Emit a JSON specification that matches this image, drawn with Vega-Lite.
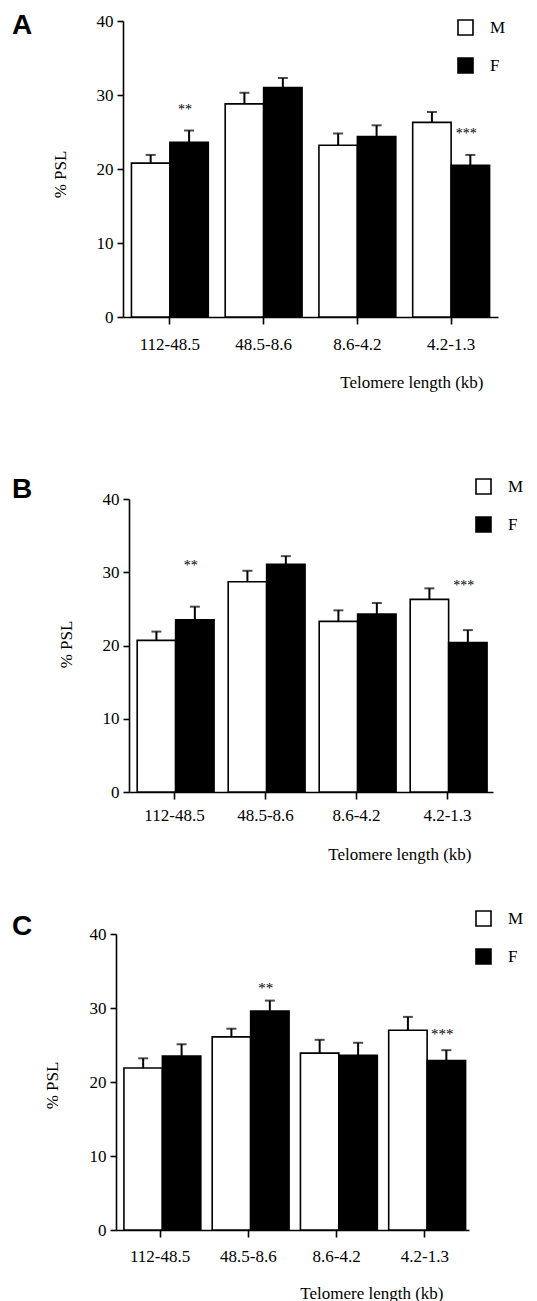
{
  "$schema": "https://vega.github.io/schema/vega-lite/v6.json",
  "background": "white",
  "padding": {"left": 12, "top": 12, "right": 0, "bottom": 0},
  "bounds": "flush",
  "spacing": 142,
  "config": {
    "view": {"stroke": null},
    "axis": {"domainColor": "black", "domainWidth": 1.6, "tickColor": "black", "tickWidth": 1.6, "labelFont": "Liberation Serif", "labelFontSize": 17, "labelColor": "black", "titleFont": "Liberation Serif", "titleFontSize": 17, "titleFontWeight": "normal", "titleColor": "black", "grid": false},
    "legend": {"symbolType": "square", "symbolSize": 225, "symbolStrokeColor": "black", "symbolStrokeWidth": 1.6, "labelFont": "Liberation Serif", "labelFontSize": 17, "labelColor": "black", "labelOffset": 16, "rowPadding": 15, "padding": 0, "orient": "none"},
    "title": {"font": "Liberation Sans", "fontSize": 28, "fontWeight": "bold", "color": "black", "anchor": "start", "frame": "group", "baseline": "alphabetic", "offset": 0, "dx": -104}
  },
  "resolve": {"scale": {"x": "independent", "y": "independent", "fill": "independent"}, "legend": {"fill": "independent"}},
  "vconcat": [
    {
      "title": {"text": "A", "dy": 32},
      "width": 382,
      "height": 296,
      "data": {"values": [
        {"cat": "112-48.5", "sex": "M", "value": 20.8, "upper": 21.9, "sig": "", "sigY": null},
        {"cat": "112-48.5", "sex": "F", "value": 23.6, "upper": 25.2, "sig": "**", "sigY": 28.4},
        {"cat": "48.5-8.6", "sex": "M", "value": 28.8, "upper": 30.3, "sig": "", "sigY": null},
        {"cat": "48.5-8.6", "sex": "F", "value": 31.0, "upper": 32.3, "sig": "", "sigY": null},
        {"cat": "8.6-4.2", "sex": "M", "value": 23.2, "upper": 24.8, "sig": "", "sigY": null},
        {"cat": "8.6-4.2", "sex": "F", "value": 24.4, "upper": 25.9, "sig": "", "sigY": null},
        {"cat": "4.2-1.3", "sex": "M", "value": 26.3, "upper": 27.7, "sig": "", "sigY": null},
        {"cat": "4.2-1.3", "sex": "F", "value": 20.5, "upper": 21.9, "sig": "***", "sigY": 25.2}
      ]},
      "encoding": {
        "x": {"field": "cat", "type": "nominal", "sort": ["112-48.5", "48.5-8.6", "8.6-4.2", "4.2-1.3"],
              "scale": {"range": [7, 382], "paddingInner": 0.18, "paddingOuter": 0.09},
              "axis": {"labelAngle": 0, "tickSize": 7, "labelPadding": 12, "title": "Telomere length (kb)", "titleX": 367, "titleY": 65, "titleAlign": "right", "titleBaseline": "middle"}},
        "xOffset": {"field": "sex", "type": "nominal", "sort": ["M", "F"]}
      },
      "layer": [
        {"mark": {"type": "bar", "stroke": "black", "strokeWidth": 1.6},
         "encoding": {
           "y": {"field": "value", "type": "quantitative", "scale": {"domain": [0, 40], "nice": false},
                 "axis": {"values": [0, 10, 20, 30, 40], "tickSize": 6, "labelPadding": 4, "offset": -7, "title": "% PSL", "titleX": -58, "titleY": 153, "titleAlign": "center", "titleBaseline": "alphabetic", "titleAngle": -90}},
           "fill": {"field": "sex", "type": "nominal", "sort": ["M", "F"], "scale": {"domain": ["M", "F"], "range": ["white", "black"]},
                    "legend": {"title": null, "legendX": 341, "legendY": -2}}
         }},
        {"mark": {"type": "rule", "color": "black", "strokeWidth": 2},
         "encoding": {"y": {"field": "value", "type": "quantitative"}, "y2": {"field": "upper"}}},
        {"mark": {"type": "tick", "color": "black", "size": 10, "thickness": 2},
         "encoding": {"y": {"field": "upper", "type": "quantitative"}}},
        {"transform": [{"filter": "datum.sig != ''"}],
         "mark": {"type": "text", "font": "Liberation Serif", "fontSize": 14, "baseline": "middle", "dy": 3, "dx": -4, "color": "black"},
         "encoding": {"y": {"field": "sigY", "type": "quantitative"}, "text": {"field": "sig"}}}
      ]
    },
    {
      "title": {"text": "B", "dy": 49},
      "width": 377,
      "height": 333,
      "data": {"values": [
        {"cat": "112-48.5", "sex": "M", "value": 20.7, "upper": 21.9, "sig": "", "sigY": null},
        {"cat": "112-48.5", "sex": "F", "value": 23.5, "upper": 25.3, "sig": "**", "sigY": 31.3},
        {"cat": "48.5-8.6", "sex": "M", "value": 28.7, "upper": 30.2, "sig": "", "sigY": null},
        {"cat": "48.5-8.6", "sex": "F", "value": 31.1, "upper": 32.2, "sig": "", "sigY": null},
        {"cat": "8.6-4.2", "sex": "M", "value": 23.3, "upper": 24.8, "sig": "", "sigY": null},
        {"cat": "8.6-4.2", "sex": "F", "value": 24.3, "upper": 25.8, "sig": "", "sigY": null},
        {"cat": "4.2-1.3", "sex": "M", "value": 26.3, "upper": 27.8, "sig": "", "sigY": null},
        {"cat": "4.2-1.3", "sex": "F", "value": 20.4, "upper": 22.1, "sig": "***", "sigY": 28.5}
      ]},
      "encoding": {
        "x": {"field": "cat", "type": "nominal", "sort": ["112-48.5", "48.5-8.6", "8.6-4.2", "4.2-1.3"],
              "scale": {"range": [13, 377], "paddingInner": 0.18, "paddingOuter": 0.09},
              "axis": {"labelAngle": 0, "tickSize": 7, "labelPadding": 8, "title": "Telomere length (kb)", "titleX": 355, "titleY": 62, "titleAlign": "right", "titleBaseline": "middle"}},
        "xOffset": {"field": "sex", "type": "nominal", "sort": ["M", "F"]}
      },
      "layer": [
        {"mark": {"type": "bar", "stroke": "black", "strokeWidth": 1.6},
         "encoding": {
           "y": {"field": "value", "type": "quantitative", "scale": {"domain": [0, 40], "nice": false, "range": [333, 40]},
                 "axis": {"values": [0, 10, 20, 30, 40], "tickSize": 6, "labelPadding": 4, "offset": -13, "title": "% PSL", "titleX": -58, "titleY": 185, "titleAlign": "center", "titleBaseline": "alphabetic", "titleAngle": -90}},
           "fill": {"field": "sex", "type": "nominal", "sort": ["M", "F"], "scale": {"domain": ["M", "F"], "range": ["white", "black"]},
                    "legend": {"title": null, "legendX": 359, "legendY": 19}}
         }},
        {"mark": {"type": "rule", "color": "black", "strokeWidth": 2},
         "encoding": {"y": {"field": "value", "type": "quantitative"}, "y2": {"field": "upper"}}},
        {"mark": {"type": "tick", "color": "black", "size": 10, "thickness": 2},
         "encoding": {"y": {"field": "upper", "type": "quantitative"}}},
        {"transform": [{"filter": "datum.sig != ''"}],
         "mark": {"type": "text", "font": "Liberation Serif", "fontSize": 14, "baseline": "middle", "dy": 3, "dx": -4, "color": "black"},
         "encoding": {"y": {"field": "sigY", "type": "quantitative"}, "text": {"field": "sig"}}}
      ]
    },
    {
      "title": {"text": "C", "dy": 35},
      "width": 353,
      "height": 296,
      "data": {"values": [
        {"cat": "112-48.5", "sex": "M", "value": 21.9, "upper": 23.2, "sig": "", "sigY": null},
        {"cat": "112-48.5", "sex": "F", "value": 23.5, "upper": 25.1, "sig": "", "sigY": null},
        {"cat": "48.5-8.6", "sex": "M", "value": 26.1, "upper": 27.2, "sig": "", "sigY": null},
        {"cat": "48.5-8.6", "sex": "F", "value": 29.6, "upper": 31.0, "sig": "**", "sigY": 33.1},
        {"cat": "8.6-4.2", "sex": "M", "value": 23.9, "upper": 25.7, "sig": "", "sigY": null},
        {"cat": "8.6-4.2", "sex": "F", "value": 23.6, "upper": 25.3, "sig": "", "sigY": null},
        {"cat": "4.2-1.3", "sex": "M", "value": 27.0, "upper": 28.8, "sig": "", "sigY": null},
        {"cat": "4.2-1.3", "sex": "F", "value": 22.9, "upper": 24.3, "sig": "***", "sigY": 26.9}
      ]},
      "encoding": {
        "x": {"field": "cat", "type": "nominal", "sort": ["112-48.5", "48.5-8.6", "8.6-4.2", "4.2-1.3"],
              "scale": {"paddingInner": 0.18, "paddingOuter": 0.09},
              "axis": {"labelAngle": 0, "tickSize": 7, "labelPadding": 11, "title": "Telomere length (kb)", "titleX": 327, "titleY": 63, "titleAlign": "right", "titleBaseline": "middle"}},
        "xOffset": {"field": "sex", "type": "nominal", "sort": ["M", "F"]}
      },
      "layer": [
        {"mark": {"type": "bar", "stroke": "black", "strokeWidth": 1.6},
         "encoding": {
           "y": {"field": "value", "type": "quantitative", "scale": {"domain": [0, 40], "nice": false},
                 "axis": {"values": [0, 10, 20, 30, 40], "tickSize": 6, "labelPadding": 4, "title": "% PSL", "titleX": -59, "titleY": 151, "titleAlign": "center", "titleBaseline": "alphabetic", "titleAngle": -90}},
           "fill": {"field": "sex", "type": "nominal", "sort": ["M", "F"], "scale": {"domain": ["M", "F"], "range": ["white", "black"]},
                    "legend": {"title": null, "legendX": 359, "legendY": -24}}
         }},
        {"mark": {"type": "rule", "color": "black", "strokeWidth": 2},
         "encoding": {"y": {"field": "value", "type": "quantitative"}, "y2": {"field": "upper"}}},
        {"mark": {"type": "tick", "color": "black", "size": 10, "thickness": 2},
         "encoding": {"y": {"field": "upper", "type": "quantitative"}}},
        {"transform": [{"filter": "datum.sig != ''"}],
         "mark": {"type": "text", "font": "Liberation Serif", "fontSize": 15, "baseline": "middle", "dy": 3, "dx": -4, "color": "black"},
         "encoding": {"y": {"field": "sigY", "type": "quantitative"}, "text": {"field": "sig"}}}
      ]
    }
  ]
}
